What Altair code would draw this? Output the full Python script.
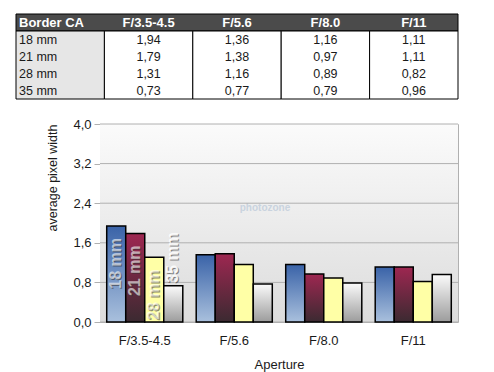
import altair as alt
import pandas as pd

# ---------------- data ----------------
apertures = ["F/3.5-4.5", "F/5.6", "F/8.0", "F/11"]
focals = ["18 mm", "21 mm", "28 mm", "35 mm"]
ca_18 = [1.94, 1.36, 1.16, 1.11]
ca_21 = [1.79, 1.38, 0.97, 1.11]
ca_28 = [1.31, 1.16, 0.89, 0.82]
ca_35 = [0.73, 0.77, 0.79, 0.96]
y_ticks = [0.0, 0.8, 1.6, 2.4, 3.2, 4.0]
table_header = "Border CA"

series = [ca_18, ca_21, ca_28, ca_35]
rows = []
for f, vals in zip(focals, series):
    for a, v in zip(apertures, vals):
        rows.append({"aperture": a, "focal": f, "value": v})
df = pd.DataFrame(rows)

# table data
header_df = pd.DataFrame({"c": list(range(5)), "text": [table_header] + apertures, "r": [0] * 5})
body_rows = []
for ri, (f, vals) in enumerate(zip(focals, series)):
    body_rows.append({"c": 0, "r": ri + 1, "text": f})
    for ci, v in enumerate(vals):
        body_rows.append({"c": ci + 1, "r": ri + 1, "text": f"{v:.2f}".replace(".", ",")})
body_df = pd.DataFrame(body_rows)
cols_df = pd.DataFrame({"c": list(range(5))})
head_rect_df = pd.DataFrame({"c": [0]})

W, H = 358, 198
FONT = "Liberation Sans"


def grad(c0, c1):
    return alt.LinearGradient(
        gradient="linear",
        stops=[alt.GradientStop(color=c0, offset=0), alt.GradientStop(color=c1, offset=1)],
        x1=0, x2=0, y1=0, y2=1,
    )


bar_fills = {
    "18 mm": grad("#3a63a8", "#a9c0dd"),
    "21 mm": grad("#9e2751", "#3b2a31"),
    "28 mm": grad("#ffffa6", "#ffffa6"),
    "35 mm": grad("#fbfbfb", "#9c9c9c"),
}

# ---------------- table ----------------
txs = alt.Scale(domain=[0, 5], range=[-84, W], nice=False, zero=False)
tys = alt.Scale(domain=[0, 5], range=[-110, -25], nice=False, zero=False)

tab_head = alt.Chart(head_rect_df).transform_calculate(c2="datum.c + 5", r0="0", r1="1").mark_rect(
    fill="#4b4b4b", stroke="#000000", strokeWidth=1
).encode(
    x=alt.X("c:Q", scale=txs, axis=None), x2="c2:Q",
    y=alt.Y("r0:Q", scale=tys, axis=None), y2="r1:Q",
)
tab_cols = alt.Chart(cols_df).transform_calculate(c2="datum.c + 1", r0="1", r1="5").mark_rect(
    stroke="#000000", strokeWidth=1
).encode(
    x=alt.X("c:Q", scale=txs, axis=None), x2="c2:Q",
    y=alt.Y("r0:Q", scale=tys, axis=None), y2="r1:Q",
    fill=alt.condition("datum.c == 0", alt.value("#e6e6e6"), alt.value("#ffffff")),
)
head_left = alt.Chart(header_df).transform_filter("datum.c == 0").transform_calculate(ry="datum.r + 0.5").mark_text(
    align="left", baseline="middle", dx=3, fontSize=13, fontWeight="bold", color="#ffffff", font=FONT
).encode(x=alt.X("c:Q", scale=txs, axis=None), y=alt.Y("ry:Q", scale=tys, axis=None), text="text:N")
head_mid = alt.Chart(header_df).transform_filter("datum.c > 0").transform_calculate(
    cx="datum.c + 0.5", ry="datum.r + 0.5"
).mark_text(
    align="center", baseline="middle", fontSize=13, fontWeight="bold", color="#ffffff", font=FONT
).encode(x=alt.X("cx:Q", scale=txs, axis=None), y=alt.Y("ry:Q", scale=tys, axis=None), text="text:N")
body_left = alt.Chart(body_df).transform_filter("datum.c == 0").transform_calculate(ry="datum.r + 0.5").mark_text(
    align="left", baseline="middle", dx=3, fontSize=12.5, color="#1a1a1a", font=FONT
).encode(x=alt.X("c:Q", scale=txs, axis=None), y=alt.Y("ry:Q", scale=tys, axis=None), text="text:N")
body_mid = alt.Chart(body_df).transform_filter("datum.c > 0").transform_calculate(
    cx="datum.c + 0.5", ry="datum.r + 0.5"
).mark_text(
    align="center", baseline="middle", fontSize=12.5, color="#1a1a1a", font=FONT
).encode(x=alt.X("cx:Q", scale=txs, axis=None), y=alt.Y("ry:Q", scale=tys, axis=None), text="text:N")

table = alt.layer(tab_head, tab_cols, head_left, head_mid, body_left, body_mid)

# ---------------- bar chart ----------------
xenc = alt.X(
    "aperture:N", sort=apertures,
    scale=alt.Scale(domain=apertures, paddingInner=0.15, paddingOuter=0.075),
    axis=alt.Axis(
        title="Aperture", labelAngle=0, ticks=False, domain=False, grid=False,
        labelFontSize=13, labelColor="#1a1a1a", labelPadding=12, labelFont=FONT,
        titleFontSize=13, titleFontWeight="normal", titleColor="#1a1a1a", titlePadding=11, titleFont=FONT,
    ),
)
xoff = alt.XOffset("focal:N", sort=focals, scale=alt.Scale(domain=focals, paddingInner=0, paddingOuter=0))
yscale = alt.Scale(domain=[0, 4], nice=False)
yaxis = alt.Axis(
    values=y_ticks, labelExpr="replace(format(datum.value, '.1f'), '.', ',')",
    title="average pixel width", titleAnchor="end", titleFontSize=12.5, titleFontWeight="normal",
    titleColor="#1a1a1a", titlePadding=13, titleFont=FONT,
    labelFontSize=13, labelColor="#1a1a1a", labelPadding=3, labelFont=FONT,
    tickColor="#b0b0b0", tickSize=6, domainColor="#b0b0b0", grid=False,
)
yenc = alt.Y("value:Q", scale=yscale, axis=yaxis)

# plot-area background gradient (spans the full y domain)
background = alt.Chart(pd.DataFrame({"lo": [y_ticks[0]], "hi": [y_ticks[-1]]})).mark_rect(
    color=grad("#fbfbfb", "#dcdcdc")
).encode(
    x=alt.value(0), x2=alt.value("width"),
    y=alt.Y("hi:Q", scale=yscale, axis=yaxis), y2="lo:Q",
)

# horizontal gridlines drawn above the background but below the bars
grid = alt.Chart(pd.DataFrame({"t": y_ticks})).mark_rule(color="#b0b0b0", strokeWidth=1).encode(
    x=alt.value(0), x2=alt.value("width"),
    y=alt.Y("t:Q", scale=yscale, axis=yaxis),
)

base = alt.Chart(df)
bars = [
    base.transform_filter(alt.datum.focal == f).mark_bar(
        color=bar_fills[f], stroke="#000000", strokeWidth=1.5
    ).encode(x=xenc, xOffset=xoff, y=yenc)
    for f in focals
]

first = apertures[0]
lab_in = base.transform_filter(f"datum.aperture == '{first}' && datum.value > 1.2")
lab_out = base.transform_filter(f"datum.aperture == '{first}' && datum.value <= 1.2")
lab_style = dict(angle=270, baseline="middle", fontSize=16, fontWeight="bold", font=FONT)
label_layers = [
    lab_in.mark_text(align="right", dx=-13, dy=1, color="#303030", opacity=0.55, **lab_style).encode(
        x=xenc, xOffset=xoff, y=yenc, text="focal:N"),
    lab_in.mark_text(align="right", dx=-12, color="#ffffff", opacity=0.6, **lab_style).encode(
        x=xenc, xOffset=xoff, y=yenc, text="focal:N"),
    lab_out.mark_text(align="left", dx=2, dy=1, color="#303030", opacity=0.55, **lab_style).encode(
        x=xenc, xOffset=xoff, y=yenc, text="focal:N"),
    lab_out.mark_text(align="left", dx=3, color="#ffffff", opacity=0.9, **lab_style).encode(
        x=xenc, xOffset=xoff, y=yenc, text="focal:N"),
]

watermark = alt.Chart(pd.DataFrame({"t": ["photozone"]})).mark_text(
    fontSize=10, fontWeight="bold", color="#c9d3de", font=FONT, align="center", baseline="middle"
).encode(x=alt.value(165), y=alt.value(84), text="t:N")

plot = alt.layer(background, watermark, grid, *bars, *label_layers)

chart = alt.layer(table, plot).resolve_scale(x="independent", y="independent").properties(
    width=W, height=H,
    padding={"left": 7, "top": 5, "right": 5, "bottom": 2},
).configure(font=FONT).configure_view(
    stroke="#b0b0b0", strokeWidth=1
)

chart.save("out.html", embed_options={"renderer": "svg", "actions": False})
